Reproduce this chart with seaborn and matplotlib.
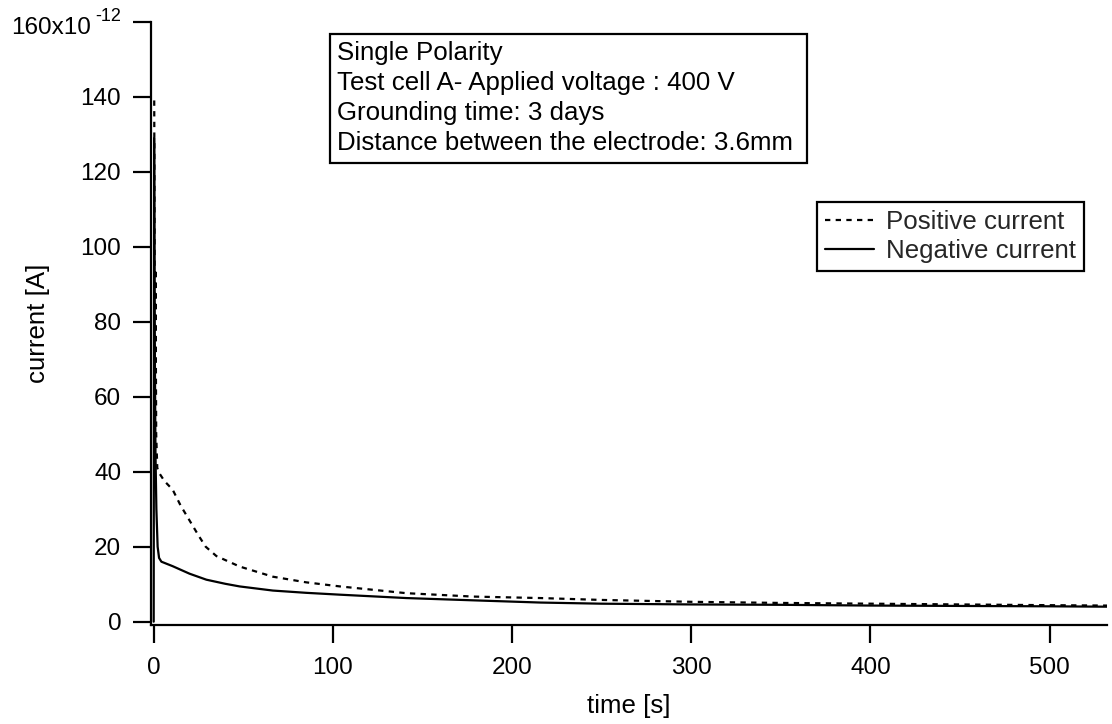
import matplotlib
matplotlib.use("Agg")
import matplotlib.pyplot as plt
from matplotlib.patches import Rectangle
import numpy as np
import pandas as pd
import seaborn as sns

# Charging current measured after switching on the applied voltage
pos_time = [0.3, 0.7, 1.0, 1.4, 2.0, 3.0, 6.0, 10.6, 15.0, 20.0, 25.0, 29.0, 35.0,
            48.0, 66.5, 85.0, 104.0, 141.0, 178.0, 216.0, 250.0, 300.0, 350.0,
            400.0, 450.0, 500.0, 532.0]
pos_current = [139.0, 60.0, 94.0, 50.0, 41.0, 39.7, 37.5, 35.2, 31.0, 27.0, 23.0,
               20.0, 17.5, 14.7, 12.0, 10.5, 9.4, 7.6, 6.7, 6.3, 5.8, 5.3, 5.0,
               4.8, 4.6, 4.4, 4.3]

neg_time = [0.0, 0.25, 0.6, 1.0, 1.5, 2.2, 3.0, 4.3, 10.6, 20.0, 29.4, 40.0, 48.0,
            66.5, 85.0, 104.0, 141.0, 178.0, 216.0, 250.0, 300.0, 350.0, 400.0,
            450.0, 500.0, 532.0]
neg_current = [0.0, 129.0, 75.0, 45.0, 30.0, 20.0, 17.0, 16.0, 14.8, 12.8, 11.2,
               10.1, 9.4, 8.3, 7.7, 7.2, 6.3, 5.7, 5.1, 4.8, 4.6, 4.5, 4.3,
               4.2, 4.1, 4.0]

series_names = ["Positive current", "Negative current"]
y_ticks = [0, 20, 40, 60, 80, 100, 120, 140, 160]
x_ticks = [0, 100, 200, 300, 400, 500]
info_lines = ["Single Polarity",
              "Test cell A- Applied voltage : 400 V",
              "Grounding time: 3 days",
              "Distance between the electrode: 3.6mm"]

df = pd.concat([
    pd.DataFrame({"time": pos_time, "current": pos_current, "series": series_names[0]}),
    pd.DataFrame({"time": neg_time, "current": neg_current, "series": series_names[1]}),
], ignore_index=True)

sns.set_style("ticks")
plt.rcParams["font.family"] = ["Liberation Sans", "DejaVu Sans"]
FS = 18.6      # labels, legend and info box
TICK_FS = 17.5  # tick labels

W, H = 1112, 724
fig = plt.figure(figsize=(W / 100, H / 100), dpi=100)
ax = fig.add_axes([151 / W, 1 - 624.5 / H, (1107 - 151) / W, (624.5 - 21.7) / H])

sns.lineplot(data=df, x="time", y="current", hue="series", style="series",
             hue_order=series_names, style_order=series_names,
             palette=["black", "black"],
             dashes={series_names[0]: (2.4, 2.4), series_names[1]: ""},
             estimator=None, sort=False, linewidth=1.6, ax=ax)

ax.set_xlim(-1.5, 532)
ax.set_ylim(-0.75, 160)
ax.set_xticks(x_ticks)
ax.set_yticks(y_ticks)
ax.set_yticklabels([str(v) for v in y_ticks[:-1]] + [""])
for side in ("top", "right"):
    ax.spines[side].set_visible(False)
for side in ("left", "bottom"):
    ax.spines[side].set_linewidth(1.6)
    ax.spines[side].set_color("black")
ax.tick_params(axis="both", direction="out", length=13, width=1.6, color="black",
               labelsize=TICK_FS, labelcolor="black")
ax.tick_params(axis="x", pad=10.2)
ax.tick_params(axis="y", pad=8.5)

ax.set_xlabel("time [s]", fontsize=FS, color="black", labelpad=11)
ax.set_ylabel("current [A]", fontsize=FS, color="black", labelpad=22)

# Top tick label carries the unit exponent
ax.annotate("160x10", xy=(0, 160), xycoords=("axes fraction", "data"),
            xytext=(-43.2, -4.5), textcoords="offset points",
            ha="right", va="center", fontsize=TICK_FS, color="black")
ax.annotate("-12", xy=(0, 160), xycoords=("axes fraction", "data"),
            xytext=(-21.6, 3.4), textcoords="offset points",
            ha="right", va="center", fontsize=13, color="black")

# Legend
leg = ax.legend(loc="upper left", bbox_to_anchor=(816.7 / W, 1 - 201.7 / H),
                bbox_transform=fig.transFigure, fontsize=FS, frameon=True,
                fancybox=False, handlelength=1.9, handletextpad=0.45,
                labelspacing=0.2, borderpad=0.32, borderaxespad=0.0)
leg.get_frame().set_edgecolor("black")
leg.get_frame().set_linewidth(1.6)
leg.get_frame().set_alpha(1)
for line in leg.get_lines():
    line.set_linewidth(1.6)

# Information box
fig.patches.append(Rectangle((330 / W, 1 - 163 / H), (806.7 - 330) / W, (163 - 34.5) / H,
                             transform=fig.transFigure, fill=True, facecolor="white",
                             edgecolor="black", linewidth=1.6, zorder=5))
for i, txt in enumerate(info_lines):
    fig.text(336.7 / W, 1 - (53 + 30 * i) / H, txt, ha="left", va="center",
             fontsize=FS, color="black", zorder=6)

fig.savefig("out.png", dpi=100)
